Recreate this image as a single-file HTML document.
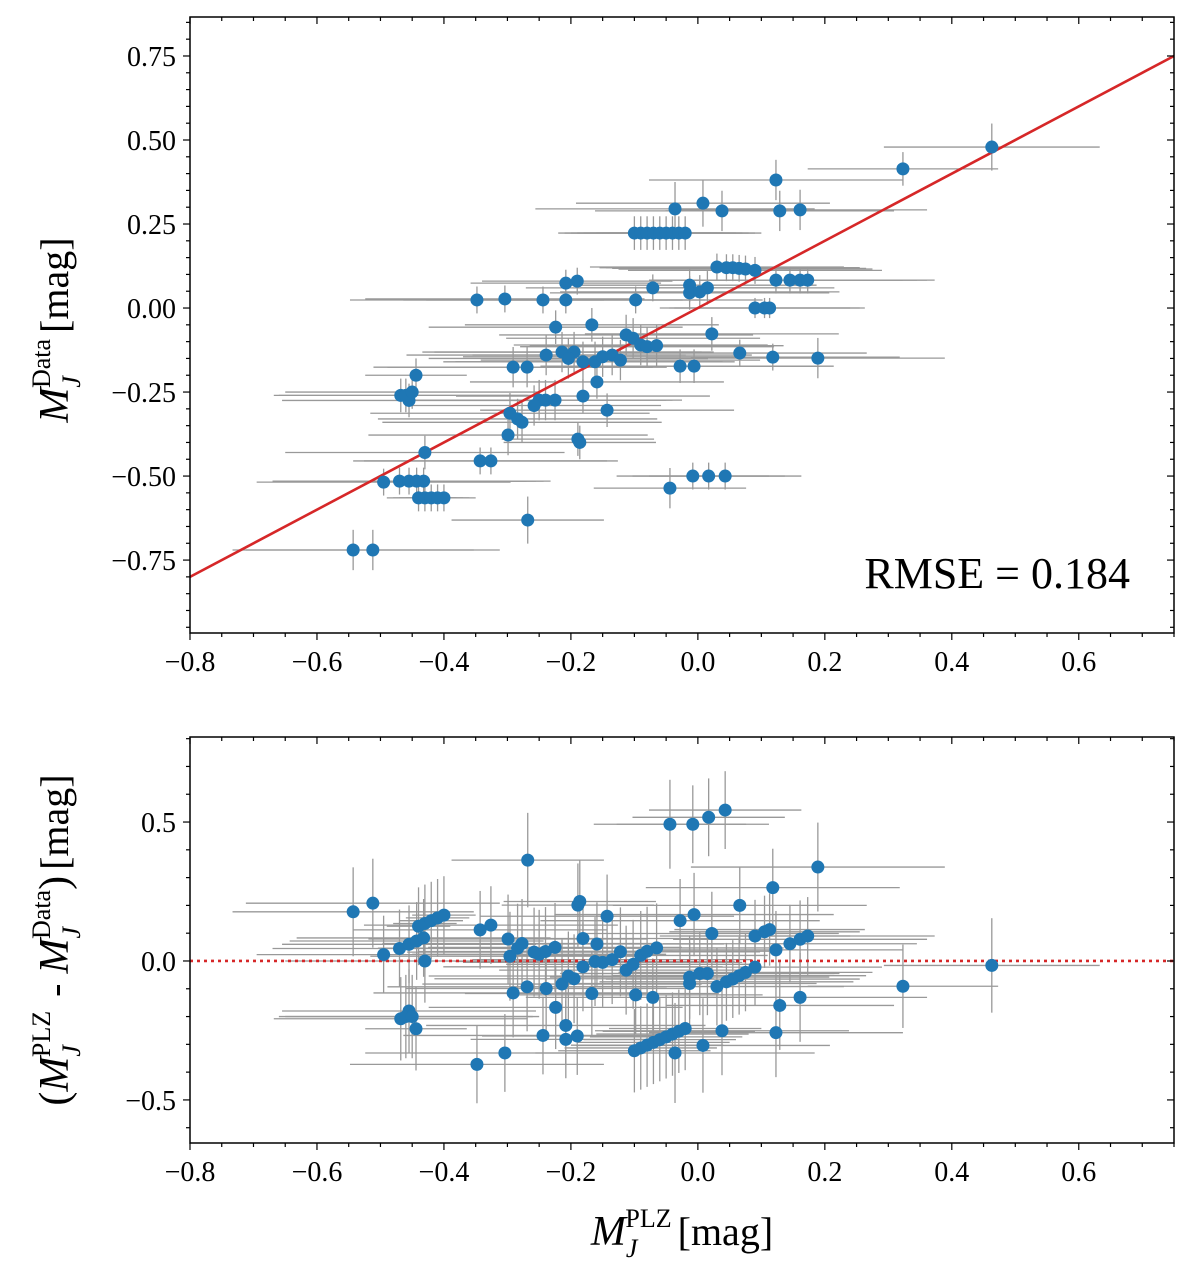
<!DOCTYPE html>
<html><head><meta charset="utf-8"><style>
html,body{margin:0;padding:0;background:#fff;}
svg{display:block;font-family:"Liberation Serif",serif;}
</style></head><body>
<svg id="chart" width="1200" height="1276" viewBox="0 0 1200 1276" xmlns="http://www.w3.org/2000/svg">
<g id="top"></g>
<g id="bot"></g>
<g>
<text transform="translate(68,330) rotate(-90)" text-anchor="middle" font-size="42"><tspan font-style="italic">M</tspan><tspan font-size="26" font-style="italic" dy="12">J</tspan><tspan font-size="26" dx="-12" dy="-30">Data</tspan><tspan font-size="40" dx="6" dy="18">[mag]</tspan></text>
</g>
<g>
<text transform="translate(68,940) rotate(-90)" text-anchor="middle" font-size="42"><tspan>(</tspan><tspan font-style="italic">M</tspan><tspan font-size="26" font-style="italic" dy="12">J</tspan><tspan font-size="26" dx="-12" dy="-30">PLZ</tspan><tspan font-size="40" dx="4" dy="18"> - </tspan><tspan font-style="italic">M</tspan><tspan font-size="26" font-style="italic" dy="12">J</tspan><tspan font-size="26" dx="-12" dy="-30">Data</tspan><tspan font-size="42" dy="18">)</tspan><tspan font-size="40" dx="6">[mag]</tspan></text>
</g>
<g>
<text x="682" y="1245" text-anchor="middle" font-size="42"><tspan font-style="italic">M</tspan><tspan font-size="26" font-style="italic" dy="12">J</tspan><tspan font-size="26" dx="-12" dy="-30">PLZ</tspan><tspan font-size="40" dx="6" dy="18">[mag]</tspan></text>
</g>
</svg>
<script>
const plzX=[0.463,0.323,0.123,0.008,-0.036,0.038,0.129,0.161,
-0.10,-0.09,-0.08,-0.07,-0.06,-0.05,-0.04,-0.03,-0.02,
0.03,0.045,0.055,0.065,0.075,0.09,-0.19,-0.208,0.123,0.145,0.161,0.173,
-0.013,-0.013,0.003,0.015,-0.348,-0.304,-0.244,-0.208,-0.098,-0.071,
0.09,0.105,0.113,-0.224,-0.167,-0.113,-0.102,-0.09,-0.08,-0.065,0.022,
-0.239,-0.214,-0.195,-0.204,-0.181,-0.162,-0.15,-0.135,-0.122,
0.066,0.118,0.189,-0.028,-0.006,-0.291,-0.269,-0.444,-0.159,
-0.25,-0.24,-0.225,-0.258,-0.181,-0.468,-0.455,-0.46,-0.45,-0.143,
-0.296,-0.284,-0.277,-0.189,-0.186,-0.299,-0.43,-0.343,-0.326,
-0.495,-0.47,-0.455,-0.443,-0.432,-0.44,-0.43,-0.42,-0.41,-0.40,
-0.044,-0.008,0.017,0.043,-0.268,-0.543,-0.512];
const dataY=[0.479,0.414,0.381,0.312,0.295,0.289,0.289,0.292,
0.223,0.223,0.223,0.223,0.223,0.223,0.223,0.223,0.223,
0.122,0.12,0.12,0.118,0.116,0.112,0.08,0.074,0.083,0.083,0.083,0.083,
0.068,0.045,0.048,0.06,0.024,0.027,0.024,0.024,0.024,0.06,
0.0,0.0,0.0,-0.057,-0.05,-0.08,-0.09,-0.11,-0.115,-0.112,-0.077,
-0.14,-0.131,-0.131,-0.15,-0.16,-0.16,-0.145,-0.14,-0.155,
-0.134,-0.146,-0.149,-0.173,-0.173,-0.176,-0.176,-0.2,-0.22,
-0.274,-0.274,-0.274,-0.29,-0.262,-0.26,-0.275,-0.26,-0.25,-0.304,
-0.313,-0.33,-0.34,-0.39,-0.40,-0.378,-0.43,-0.455,-0.455,
-0.518,-0.515,-0.515,-0.515,-0.515,-0.565,-0.565,-0.565,-0.565,-0.565,
-0.536,-0.5,-0.5,-0.5,-0.631,-0.72,-0.72];
const xErr=[0.17,0.15,0.2,0.2,0.22,0.2,0.18,0.2,
0.12,0.12,0.12,0.12,0.12,0.12,0.12,0.12,0.12,
0.2,0.2,0.2,0.2,0.2,0.2,0.15,0.15,0.2,0.2,0.2,0.2,
0.2,0.22,0.22,0.2,0.2,0.22,0.22,0.22,0.2,0.2,
0.15,0.15,0.15,0.2,0.2,0.2,0.2,0.2,0.2,0.2,0.2,
0.22,0.22,0.22,0.22,0.22,0.22,0.22,0.22,0.22,
0.2,0.2,0.2,0.22,0.22,0.22,0.22,0.08,0.2,
0.2,0.2,0.2,0.2,0.2,0.2,0.2,0.2,0.2,0.2,
0.22,0.22,0.22,0.12,0.12,0.22,0.22,0.2,0.2,
0.2,0.2,0.2,0.2,0.2,0.05,0.05,0.05,0.05,0.05,
0.12,0.12,0.12,0.12,0.12,0.19,0.2];
const yErr=[0.07,0.05,0.06,0.07,0.08,0.06,0.06,0.06,
0.05,0.05,0.05,0.05,0.05,0.05,0.05,0.05,0.05,
0.04,0.04,0.04,0.04,0.04,0.04,0.04,0.04,0.04,0.04,0.04,0.04,
0.05,0.05,0.05,0.05,0.04,0.04,0.04,0.04,0.04,0.04,
0.03,0.03,0.03,0.05,0.05,0.06,0.06,0.06,0.06,0.06,0.05,
0.06,0.06,0.06,0.06,0.06,0.06,0.06,0.06,0.06,
0.04,0.04,0.06,0.05,0.05,0.06,0.06,0.05,0.05,
0.06,0.06,0.06,0.06,0.05,0.05,0.05,0.05,0.05,0.05,
0.06,0.06,0.06,0.05,0.05,0.06,0.05,0.04,0.04,
0.04,0.04,0.04,0.04,0.04,0.04,0.04,0.04,0.04,0.04,
0.06,0.04,0.04,0.04,0.07,0.06,0.06];
const xTicks=[-0.8,-0.6,-0.4,-0.2,0.0,0.2,0.4,0.6];
const xTickLabels=["\u22120.8","\u22120.6","\u22120.4","\u22120.2","0.0","0.2","0.4","0.6"];
const topYTicks=[0.75,0.5,0.25,0,-0.25,-0.5,-0.75];
const topYTickLabels=["0.75","0.50","0.25","0.00","\u22120.25","\u22120.50","\u22120.75"];
const botYTicks=[0.5,0,-0.5];
const botYTickLabels=["0.5","0.0","\u22120.5"];
const rmseText="RMSE = 0.184";

const NS="http://www.w3.org/2000/svg";
function mk(tag,attrs,parent){const e=document.createElementNS(NS,tag);for(const k in attrs)e.setAttribute(k,attrs[k]);parent.appendChild(e);return e;}
const L=190,R=1174;
const xs=v=>L+(v+0.8)/1.55*(R-L);
function panel(g,T,B,ymin,ymax,xv,yv,ye){
  const ys=v=>B-(v-ymin)/(ymax-ymin)*(B-T);
  for(let i=0;i<xv.length;i++){
    const h=mk('line',{x1:xs(xv[i]-xErr[i]),x2:xs(xv[i]+xErr[i]),y1:ys(yv[i]),y2:ys(yv[i]),stroke:'#999',"stroke-width":1.3},g);
    
    
    const v=mk('line',{x1:xs(xv[i]),x2:xs(xv[i]),y1:ys(yv[i]-ye[i]),y2:ys(yv[i]+ye[i]),stroke:'#999',"stroke-width":1.3},g);
    
    
  }
  return ys;
}
function axes(g,T,B,ymin,ymax,yt,ytl,minorStep,ys){
  const f=mk('rect',{x:L,y:T,width:R-L,height:B-T,fill:'none',stroke:'#000',"stroke-width":1.5},g);
  
  
  for(let k=0;k<=31;k++){const v=-0.8+k*0.05;const x=xs(v);const major=k%4===0;const len=major?7:4;
    mk('line',{x1:x,x2:x,y1:B,y2:B+len,stroke:'#000',"stroke-width":1.2},g);
    mk('line',{x1:x,x2:x,y1:T,y2:T+len,stroke:'#000',"stroke-width":1.2},g);}
  xTicks.forEach((v,i)=>{const t=mk('text',{x:xs(v),y:B+38,"text-anchor":'middle',"font-size":28},g);t.textContent=xTickLabels[i];
    
    });
  const start=Math.ceil(ymin/minorStep-1e-6)*minorStep;
  for(let v=start;v<=ymax+1e-9;v+=minorStep){const y=ys(v);const major=yt.some(t=>Math.abs(t-v)<1e-6);const len=major?7:4;
    mk('line',{x1:L-len,x2:L,y1:y,y2:y,stroke:'#000',"stroke-width":1.2},g);
    mk('line',{x1:R-len,x2:R,y1:y,y2:y,stroke:'#000',"stroke-width":1.2},g);}
  yt.forEach((v,i)=>{const t=mk('text',{x:L-14,y:ys(v)+10,"text-anchor":'end',"font-size":28},g);t.textContent=ytl[i];
    
    });
}
function dots(g,xv,yv,ys){for(let i=0;i<xv.length;i++){const c=mk('circle',{cx:xs(xv[i]),cy:ys(yv[i]),r:6.5,fill:'#1f77b4'},g);
  
  }}

const gt=document.getElementById('top');
const ysT=panel(gt,17,633,-0.967,0.866,plzX,dataY,yErr);
const ln=mk('line',{x1:xs(-0.8),y1:ysT(-0.8),x2:xs(0.75),y2:ysT(0.75),stroke:'#d62728',"stroke-width":2.6},gt);


dots(gt,plzX,dataY,ysT);
axes(gt,17,633,-0.967,0.866,topYTicks,topYTickLabels,0.05,ysT);
const rm=mk('text',{x:1130,y:588,"text-anchor":'end',"font-size":44},gt);rm.textContent=rmseText;



const resid=plzX.map((v,i)=>v-dataY[i]);
const residErr=yErr.map(v=>v+0.1);
const gb=document.getElementById('bot');
const ysB=panel(gb,737,1143,-0.655,0.806,plzX,resid,residErr);
const zl=mk('line',{x1:L,x2:R,y1:ysB(0),y2:ysB(0),stroke:'#d62728',"stroke-width":2.6,"stroke-dasharray":'3,4'},gb);


dots(gb,plzX,resid,ysB);
axes(gb,737,1143,-0.655,0.806,botYTicks,botYTickLabels,0.1,ysB);
</script>
</body></html>
